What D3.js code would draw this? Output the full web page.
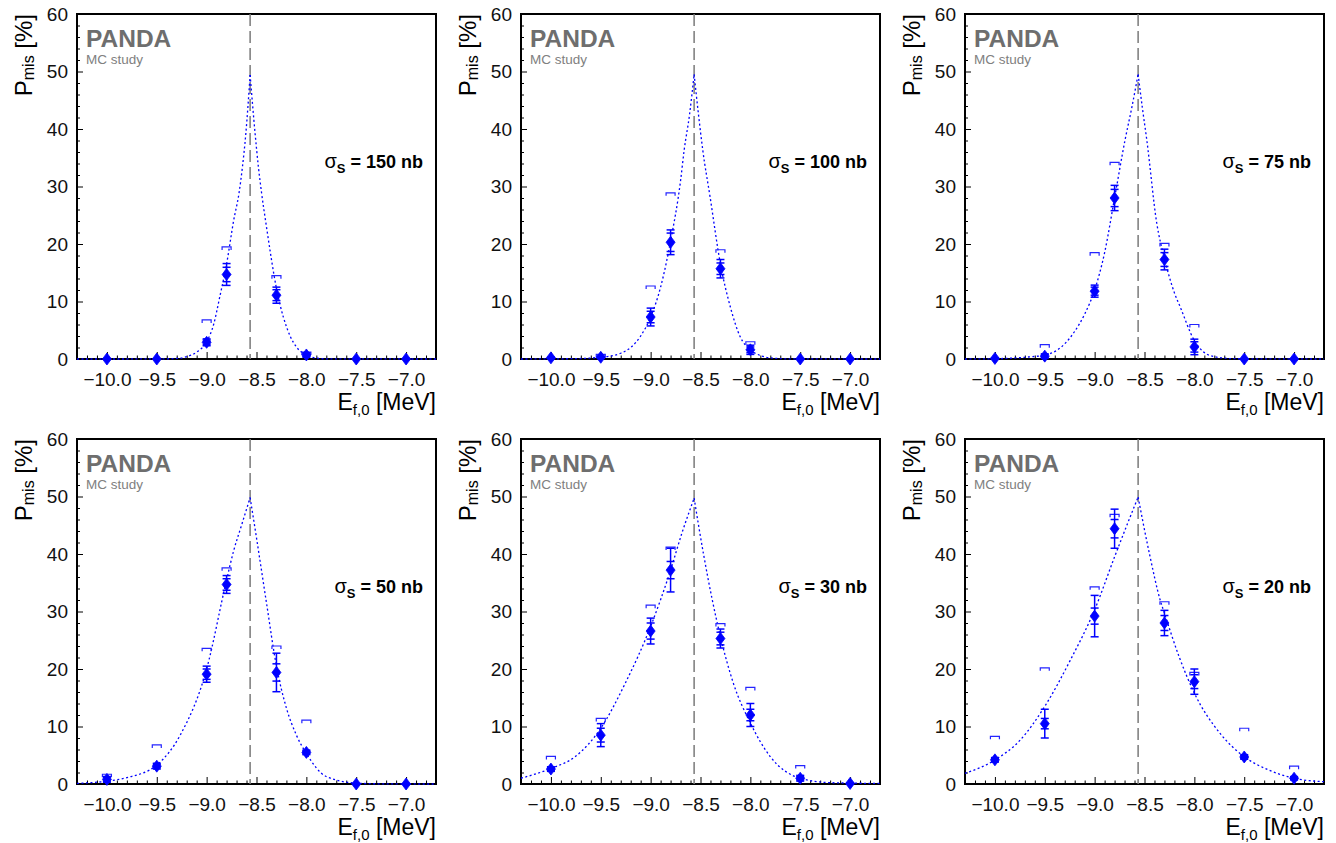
<!DOCTYPE html>
<html><head><meta charset="utf-8">
<script src="https://cdn.jsdelivr.net/npm/d3@7"></script>
<style>
body{margin:0;background:#fff}
svg{display:block}
text{font-family:"Liberation Sans",Arial,Helvetica,sans-serif}
</style>
</head><body>
<svg id="c" width="1336" height="843"></svg>
<script>
// ---------------- data ----------------
const energies = [-10.0, -9.5, -9.0, -8.8, -8.3, -8.0, -7.5, -7.0];
const xTicks = [-10.0, -9.5, -9.0, -8.5, -8.0, -7.5, -7.0];
const yTicks = [0, 10, 20, 30, 40, 50, 60];
const sigmaLabels = ["150 nb", "100 nb", "75 nb", "50 nb", "30 nb", "20 nb"];
const peakEnergy = -8.564;

// sigma_S = 150 nb
const val150   = [0, 0, 2.9, 14.7, 11.1, 0.7, 0, 0];
const err150   = [0, 0, 0.6, 1.9, 1.4, 0.4, 0, 0];
const errIn150 = [0, 0, 0.4, 1.25, 0.95, 0.25, 0, 0];
const sys150   = [null, null, 6.8, 19.5, 14.5, 1.2, null, null];
const fitL150  = [[-10.3,0],[-9.5,0.01],[-9.3,0.1],[-9.2,0.4],[-9.1,1.2],[-9.0,3.0],[-8.93,6.0],[-8.866,11.0],[-8.8,16.5],[-8.73,24.0],[-8.674,29.0],[-8.641,33.4],[-8.607,39.2],[-8.564,49.4]];
const fitR150  = [[-8.564,49.4],[-8.514,39.2],[-8.481,33.4],[-8.45,29.0],[-8.4,23.0],[-8.3,12.3],[-8.163,4.0],[-8.1,2.1],[-8.0,0.7],[-7.9,0.15],[-7.8,0.03],[-6.7,0]];

// sigma_S = 100 nb
const val100   = [0.2, 0.3, 7.3, 20.3, 15.7, 1.6, 0, 0];
const err100   = [0.1, 0.2, 1.55, 2.15, 1.6, 0.8, 0, 0];
const errIn100 = [0.05, 0.1, 1.0, 1.6, 1.0, 0.5, 0, 0];
const sys100   = [null, 0.8, 12.7, 28.9, 19.0, 3.0, null, null];
const fitL100  = [[-10.3,0],[-9.8,0.05],[-9.5,0.3],[-9.3,1.0],[-9.2,2.0],[-9.1,4.0],[-9.0,7.3],[-8.9,12.5],[-8.8,20.5],[-8.7,31.0],[-8.664,36.3],[-8.61,42.5],[-8.564,49.5]];
const fitR100  = [[-8.564,49.5],[-8.52,42.5],[-8.477,36.3],[-8.404,28.2],[-8.3,16.5],[-8.2,9.0],[-8.103,3.9],[-8.0,1.6],[-7.9,0.6],[-7.8,0.2],[-7.6,0.02],[-6.7,0]];

// sigma_S = 75 nb
const val75    = [0.1, 0.5, 11.8, 28.0, 17.3, 2.1, 0, 0];
const err75    = [0.1, 0.4, 1.05, 2.2, 1.8, 1.35, 0, 0];
const errIn75  = [0.05, 0.25, 0.7, 1.5, 1.2, 0.9, 0, 0];
const sys75    = [null, 2.5, 18.5, 34.2, 20.1, 6.0, null, null];
const fitL75   = [[-10.3,0],[-10.0,0.05],[-9.7,0.3],[-9.5,0.7],[-9.38,1.5],[-9.2,4.8],[-9.1,7.8],[-9.0,12.0],[-8.9,18.5],[-8.8,28.0],[-8.695,38.1],[-8.63,43.5],[-8.564,49.5]];
const fitR75   = [[-8.564,49.5],[-8.52,43.5],[-8.477,38.1],[-8.377,23.6],[-8.3,17.5],[-8.2,11.5],[-8.143,9.1],[-8.0,3.2],[-7.942,1.8],[-7.8,0.4],[-7.6,0.05],[-6.7,0]];

// sigma_S = 50 nb
const val50    = [0.8, 3.1, 19.1, 34.7, 19.4, 5.5, 0, 0];
const err50    = [0.5, 0.5, 1.4, 1.55, 3.35, 0.4, 0, 0];
const errIn50  = [0.3, 0.3, 0.9, 1.0, 1.5, 0.25, 0, 0];
const sys50    = [1.7, 6.8, 23.6, 37.6, 24.0, 11.1, null, null];
const fitL50   = [[-10.3,0.1],[-10.0,0.5],[-9.8,1.1],[-9.5,3.3],[-9.265,8.5],[-9.0,20.0],[-8.8,35.5],[-8.73,40.5],[-8.65,45.0],[-8.564,49.8]];
const fitR50   = [[-8.564,49.8],[-8.5,42.8],[-8.4,31.5],[-8.3,20.5],[-8.2,13.2],[-8.1,8.5],[-8.0,5.3],[-7.8,1.3],[-7.5,0.15],[-7.2,0.02],[-6.7,0]];

// sigma_S = 30 nb
const val30    = [2.6, 8.5, 26.6, 37.2, 25.3, 12.0, 1.0, 0.1];
const err30    = [0.4, 2.0, 2.25, 3.8, 1.65, 2.0, 0.5, 0.1];
const errIn30  = [0.25, 1.2, 1.4, 1.5, 1.1, 1.0, 0.3, 0.05];
const sys30    = [4.8, 11.4, 31.1, 41.2, 27.9, 16.8, 3.2, null];
const fitL30   = [[-10.3,1.0],[-10.0,2.7],[-9.757,4.75],[-9.5,9.7],[-9.255,17.5],[-9.0,27.4],[-8.8,37.2],[-8.687,43.6],[-8.564,49.7]];
const fitR30   = [[-8.564,49.7],[-8.471,40.1],[-8.3,25.6],[-8.17,17.5],[-8.0,10.6],[-7.8,4.75],[-7.5,1.0],[-7.2,0.23],[-6.7,0.1]];

// sigma_S = 20 nb
const val20    = [4.2, 10.5, 29.2, 44.4, 28.0, 17.8, 4.7, 1.0];
const err20    = [0.4, 2.5, 3.6, 3.4, 2.2, 2.2, 0.4, 0.3];
const errIn20  = [0.25, 0.9, 1.4, 1.6, 1.3, 1.2, 0.25, 0.2];
const sys20    = [8.3, 20.2, 34.3, 46.9, 31.7, 19.4, 9.7, 3.1];
const fitL20   = [[-10.3,1.86],[-10.0,4.17],[-9.746,7.65],[-9.5,13.5],[-9.245,21.5],[-9.0,30.3],[-8.8,39.5],[-8.677,45.0],[-8.564,49.9]];
const fitR20   = [[-8.564,49.9],[-8.45,40.0],[-8.343,32.0],[-8.3,29.7],[-8.15,22.0],[-8.0,15.8],[-7.742,8.8],[-7.5,4.75],[-7.249,2.4],[-7.0,1.0],[-6.7,0.4]];

const panels = [
  {label: sigmaLabels[0], val: val150, err: err150, errIn: errIn150, sys: sys150, fitL: fitL150, fitR: fitR150},
  {label: sigmaLabels[1], val: val100, err: err100, errIn: errIn100, sys: sys100, fitL: fitL100, fitR: fitR100},
  {label: sigmaLabels[2], val: val75,  err: err75,  errIn: errIn75,  sys: sys75,  fitL: fitL75,  fitR: fitR75},
  {label: sigmaLabels[3], val: val50,  err: err50,  errIn: errIn50,  sys: sys50,  fitL: fitL50,  fitR: fitR50},
  {label: sigmaLabels[4], val: val30,  err: err30,  errIn: errIn30,  sys: sys30,  fitL: fitL30,  fitR: fitR30},
  {label: sigmaLabels[5], val: val20,  err: err20,  errIn: errIn20,  sys: sys20,  fitL: fitL20,  fitR: fitR20}
];

// ---------------- drawing ----------------
const svg = d3.select("#c");
const W = 359, H = 345;
const origins = [[77,14],[521,14],[965,14],[77,439],[521,439],[965,439]];
const BLUE = "#0000ff";
const minorX = d3.range(-10.3, -6.69, 0.1).map(v => Math.round(v*10)/10).filter(v => Math.abs(v*2 - Math.round(v*2)) > 1e-6);
const minorY = d3.range(0, 61, 2).filter(v => v % 10 !== 0);

panels.forEach((p, i) => {
  const [ox, oy] = origins[i];
  const g = svg.append("g").attr("transform", `translate(${ox},${oy})`);
  const x = d3.scaleLinear().domain([-10.3, -6.7]).range([0, W]);
  const y = d3.scaleLinear().domain([0, 60]).range([H, 0]);

  // minor ticks
  g.append("g").attr("transform", `translate(0,${H})`)
    .call(d3.axisBottom(x).tickValues(minorX).tickSize(-3.5).tickSizeOuter(0).tickFormat(""))
    .call(a => a.select(".domain").remove());
  g.append("g")
    .call(d3.axisLeft(y).tickValues(minorY).tickSize(-3).tickSizeOuter(0).tickFormat(""))
    .call(a => a.select(".domain").remove());
  // major ticks
  const xa = g.append("g").attr("transform", `translate(0,${H})`)
    .call(d3.axisBottom(x).tickValues(xTicks).tickSize(-7).tickSizeOuter(0).tickPadding(14).tickFormat(d3.format(".1f")))
    .call(a => a.select(".domain").remove());
  const ya = g.append("g")
    .call(d3.axisLeft(y).tickValues(yTicks).tickSize(-6).tickSizeOuter(0).tickPadding(9).tickFormat(d3.format("d")))
    .call(a => a.select(".domain").remove());
  g.selectAll(".tick line").attr("stroke", "#000").attr("stroke-width", 1);
  xa.selectAll("text").attr("font-size", 19).attr("fill", "#111").attr("font-family", '"Liberation Sans",Arial,sans-serif');
  ya.selectAll("text").attr("font-size", 19).attr("fill", "#111").attr("font-family", '"Liberation Sans",Arial,sans-serif');

  // frame
  g.append("rect").attr("x", 0).attr("y", 0).attr("width", W).attr("height", H)
    .attr("fill", "none").attr("stroke", "#000").attr("stroke-width", 2);

  // axis titles
  const yt = g.append("text").attr("transform", `translate(-45,0) rotate(-90)`)
    .attr("text-anchor", "end").attr("font-size", 24).attr("fill", "#000");
  yt.append("tspan").text("P");
  yt.append("tspan").attr("font-size", 16).attr("dy", 2).text("mis");
  yt.append("tspan").attr("dy", -2).text(" [%]");

  const xt = g.append("text").attr("x", W).attr("y", 396)
    .attr("text-anchor", "end").attr("font-size", 23).attr("fill", "#000");
  xt.append("tspan").text("E");
  xt.append("tspan").attr("font-size", 15).attr("dy", 4.5).text("f,0");
  xt.append("tspan").attr("dy", -4.5).text(" [MeV]");

  // PANDA labels
  g.append("text").attr("x", 9).attr("y", 32.5).attr("font-size", 24.5).attr("font-weight", "bold")
    .attr("fill", "#6e6e6e").text("PANDA");
  g.append("text").attr("x", 9).attr("y", 49.5).attr("font-size", 13.5)
    .attr("fill", "#808080").text("MC study");

  // sigma label
  const st = g.append("text").attr("x", 346).attr("y", 154).attr("text-anchor", "end")
    .attr("font-size", 18).attr("font-weight", "bold").attr("fill", "#000");
  st.append("tspan").attr("font-weight", "normal").attr("font-size", 20).text("σ");
  st.append("tspan").attr("font-size", 13).attr("dy", 5).text("S");
  st.append("tspan").attr("dy", -5).text(" = " + p.label);

  // dashed peak line
  g.append("line").attr("x1", x(peakEnergy)).attr("x2", x(peakEnergy))
    .attr("y1", y(60)).attr("y2", y(0))
    .attr("stroke", "#7a7a7a").attr("stroke-width", 1.5).attr("stroke-dasharray", "12,5");

  // fit curve
  const line = d3.line().x(d => x(d[0])).y(d => y(d[1])).curve(d3.curveMonotoneX);
  [p.fitL, p.fitR].forEach(seg => {
    g.append("path").attr("d", line(seg)).attr("fill", "none")
      .attr("stroke", BLUE).attr("stroke-width", 1.3).attr("stroke-dasharray", "2,2.5");
  });

  const pts = energies.map((e, k) => ({e, v: p.val[k], er: p.err[k], ei: p.errIn[k], s: p.sys[k]}));

  // systematic brackets
  pts.filter(d => d.s !== null).forEach(d => {
    const cx = x(d.e), cy = y(d.s);
    g.append("path").attr("d", `M${cx-4.5},${cy+3}V${cy}H${cx+4.5}V${cy+3}`)
      .attr("fill", "none").attr("stroke", "#2424ff").attr("stroke-width", 1.2);
  });

  // statistical error bars
  pts.filter(d => d.er > 0).forEach(d => {
    const cx = x(d.e);
    const eg = g.append("g").attr("stroke", BLUE).attr("stroke-width", 1.5);
    eg.append("line").attr("x1", cx).attr("x2", cx).attr("y1", y(d.v - d.er)).attr("y2", y(d.v + d.er));
    [d.v - d.er, d.v + d.er, d.v - d.ei, d.v + d.ei].forEach(yy => {
      eg.append("line").attr("x1", cx - 4).attr("x2", cx + 4).attr("y1", y(yy)).attr("y2", y(yy));
    });
  });

  // markers (filled diamonds)
  g.selectAll("path.mk").data(pts).join("path").attr("class", "mk")
    .attr("transform", d => `translate(${x(d.e)},${y(d.v)})`)
    .attr("d", "M0,-6L4.5,0L0,6L-4.5,0Z")
    .attr("fill", BLUE).attr("stroke", BLUE).attr("stroke-width", 0.8);
});
</script>
</body></html>
